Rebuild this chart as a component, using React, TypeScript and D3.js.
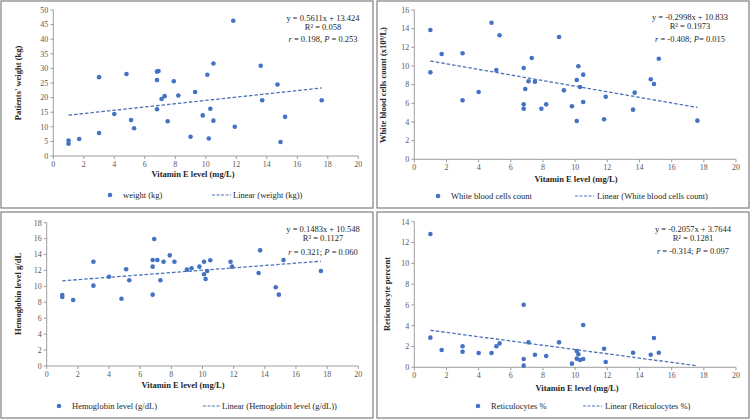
import React from "react";
import * as d3 from "d3";

// ---- Data ----
const weightVitE = [1, 1, 1.7, 3, 3, 4, 4.8, 5.1, 5.3, 6.8, 6.9, 6.8, 6.8, 7.1, 7.3, 7.5, 7.9, 8.2, 9, 9.3, 9.8, 10.1, 10.2, 10.3, 10.5, 10.5, 11.8, 11.9, 13.6, 13.7, 14.7, 14.9, 15.2, 17.6];
const weightKg = [5.3, 4.2, 5.8, 27, 7.9, 14.4, 28.1, 12.3, 9.5, 28.9, 29.1, 26, 16, 19.5, 20.5, 11.9, 25.6, 20.7, 6.6, 21.9, 13.9, 27.8, 6.0, 16.2, 31.7, 12.1, 46.3, 10, 30.9, 19.1, 24.5, 4.8, 13.4, 19.1];

const wbcVitE = [1, 1, 1.7, 3, 3, 4, 4.8, 5.1, 5.3, 6.8, 6.8, 6.8, 6.9, 7.1, 7.3, 7.5, 7.9, 8.2, 9, 9.3, 9.8, 10.1, 10.1, 10.2, 10.3, 10.5, 10.5, 11.8, 11.9, 13.6, 13.7, 14.7, 14.9, 15.2, 17.6];
const wbcCount = [13.86, 9.32, 11.29, 11.36, 6.32, 7.21, 14.64, 9.57, 13.29, 9.79, 5.89, 5.42, 7.53, 8.36, 10.86, 8.32, 5.42, 5.89, 13.1, 7.39, 5.68, 8.5, 4.1, 9.97, 7.75, 9.07, 6.14, 4.29, 6.71, 5.32, 7.14, 8.58, 8.07, 10.78, 4.14];

const hbVitE = [1, 1, 1.7, 3, 3, 4, 4.8, 5.1, 5.3, 6.9, 6.8, 6.8, 6.8, 7.1, 7.3, 7.5, 7.9, 8.2, 9, 9.3, 9.8, 10.1, 10.1, 10.2, 10.3, 10.5, 11.8, 11.9, 13.6, 13.7, 14.7, 14.9, 15.2, 17.6];
const hbLevel = [8.92, 8.67, 8.29, 13.1, 10.09, 11.22, 8.45, 12.15, 10.77, 15.95, 13.32, 12.48, 8.96, 13.32, 10.77, 13.1, 13.9, 13.1, 12.1, 12.27, 12.48, 13.1, 11.52, 10.93, 11.93, 13.28, 13.1, 12.48, 11.68, 14.53, 9.89, 8.96, 13.32, 11.93];

const reticVitE = [1, 1, 1.7, 3, 3, 4, 4.8, 5.1, 5.3, 6.8, 6.8, 6.8, 7.1, 7.5, 8.2, 9, 9.8, 10.1, 10.1, 10.2, 10.3, 10.5, 10.5, 11.8, 11.9, 13.6, 14.7, 14.9, 15.2];
const reticPct = [12.82, 2.85, 1.66, 2.02, 1.5, 1.37, 1.37, 2.02, 2.3, 6.02, 0.8, 0.16, 2.4, 1.21, 1.09, 2.4, 0.35, 1.57, 0.83, 1.25, 0.7, 0.8, 4.07, 1.79, 0.51, 1.4, 1.21, 2.82, 1.4];

const slopes = [0.5611, -0.2998, 0.1483, -0.2057];
const intercepts = [13.424, 10.833, 10.548, 3.7644];
const yMaxes = [50, 16, 18, 14];
const yStep = [5, 2, 2, 2];
const xTicks = [0, 2, 4, 6, 8, 10, 12, 14, 16, 18, 20];
const seriesNames = ["weight (kg)", "White blood cells count", "Hemoglobin level (g/dL)", "Reticulocytes %"];
const yTitles = ["Patients' weight (kg)", "White blood cells count (x10\u2079/L)", "Hemoglobin level g/dL", "Reticulocyte percent"];
const xTitle = "Vitamin E level (mg/L)";
const eqLines = ["y = 0.5611x + 13.424", "y = -0.2998x + 10.833", "y = 0.1483x + 10.548", "y = -0.2057x + 3.7644"];
const r2Lines = ["R\u00b2 = 0.058", "R\u00b2 = 0.1973", "R\u00b2 = 0.1127", "R\u00b2 = 0.1281"];
const rValues = ["0.198", "-0.408", "0.321", "-0.314"];
const pValues = ["0.253", "0.015", "0.060", "0.097"];
const rpSeparators = [", ", "; ", "; ", "; "];
const pEquals = [" = ", "= ", " = ", " = "];

const xsAll = [weightVitE, wbcVitE, hbVitE, reticVitE];
const ysAll = [weightKg, wbcCount, hbLevel, reticPct];

// ---- Layout ----
const layouts = [
  { box: [1, 1, 372, 207], px: [53.3, 358.3], py: [156, 10], xt: [193, 177], yt: [21, 83], eq: [323, 21, 30, 42], lg: [110, 123, 212, 231, 233, 195] },
  { box: [377, 1, 372, 207], px: [414.3, 736], py: [159.3, 10], xt: [576, 182], yt: [386, 85], eq: [690, 20, 29, 42], lg: [438, 451, 575, 594, 597, 196] },
  { box: [1, 212, 372, 206], px: [46.7, 358.3], py: [366, 222.7], xt: [183, 387.5], yt: [21, 294], eq: [323, 232, 241, 255], lg: [59, 72, 203, 220, 222, 406] },
  { box: [377, 212, 372, 206], px: [414.3, 736], py: [367.3, 221.7], xt: [577, 391], yt: [390, 294], eq: [693, 232, 241, 254], lg: [478, 491, 583, 602, 605, 406] },
];

const BLUE = "#4472C4";
const FONT = "'Liberation Serif', 'Times New Roman', serif";

const trendExtent = d3.extent(wbcVitE) as [number, number];

function Panel({ i }: { i: number }) {
  const L = layouts[i];
  const x = d3.scaleLinear().domain([0, 20]).range(L.px);
  const y = d3.scaleLinear().domain([0, yMaxes[i]]).range(L.py);
  const yTicks = d3.range(0, yMaxes[i] + 0.001, yStep[i]);
  const xs = xsAll[i];
  const ys = ysAll[i];
  const line = d3
    .line<number>()
    .x((v) => x(v))
    .y((v) => y(slopes[i] * v + intercepts[i]));
  const [bx, by, bw, bh] = L.box;
  const [mx, tx, d1, d2, dtx, ly] = L.lg;
  return (
    <g>
      <rect x={bx} y={by} width={bw} height={bh} fill="#fff" stroke="#7f7f7f" strokeWidth={1.2} />
      {/* axes */}
      <line x1={L.px[0]} x2={L.px[1]} y1={L.py[0]} y2={L.py[0]} stroke="#868686" strokeWidth={0.8} />
      <line x1={L.px[0]} x2={L.px[0]} y1={L.py[0]} y2={L.py[1]} stroke="#868686" strokeWidth={0.8} />
      {xTicks.map((t) => (
        <g key={"xt" + t}>
          <line x1={x(t)} x2={x(t)} y1={L.py[0]} y2={L.py[0] + 3} stroke="#868686" strokeWidth={0.8} />
          <text x={x(t)} y={L.py[0] + 11} textAnchor="middle" fontSize={8} fill="#595959" fontFamily={FONT}>
            {t}
          </text>
        </g>
      ))}
      {yTicks.map((t) => (
        <g key={"yt" + t}>
          <line x1={L.px[0] - 3} x2={L.px[0]} y1={y(t)} y2={y(t)} stroke="#868686" strokeWidth={0.8} />
          <text x={L.px[0] - 5} y={y(t) + 2.8} textAnchor="end" fontSize={8} fill="#595959" fontFamily={FONT}>
            {t}
          </text>
        </g>
      ))}
      {/* points */}
      {xs.map((v, k) => (
        <circle key={k} cx={x(v)} cy={y(ys[k])} r={2.3} fill={BLUE} />
      ))}
      {/* trendline */}
      <path d={line(trendExtent) || ""} fill="none" stroke="#4a72b8" strokeWidth={1.3} strokeDasharray="3.5,2" />
      {/* titles */}
      <text x={L.xt[0]} y={L.xt[1]} textAnchor="middle" fontSize={8.5} fontWeight="bold" fill="#262626" fontFamily={FONT}>
        {xTitle}
      </text>
      <text
        transform={`translate(${L.yt[0]},${L.yt[1]}) rotate(-90)`}
        textAnchor="middle"
        fontSize={8.5}
        fontWeight="bold"
        fill="#262626"
        fontFamily={FONT}
      >
        {yTitles[i]}
      </text>
      {/* equation */}
      <g fontSize={8.5} fill="#262626" fontFamily={FONT} textAnchor="middle">
        <text x={L.eq[0]} y={L.eq[1]}>{eqLines[i]}</text>
        <text x={L.eq[0]} y={L.eq[2]}>{r2Lines[i]}</text>
        <text x={L.eq[0]} y={L.eq[3]}>
          <tspan fontStyle="italic">r</tspan>
          {" = " + rValues[i] + rpSeparators[i]}
          <tspan fontStyle="italic">P</tspan>
          {pEquals[i] + pValues[i]}
        </text>
      </g>
      {/* legend */}
      <circle cx={mx} cy={ly} r={2.3} fill={BLUE} />
      <text x={tx} y={ly + 3} fontSize={8.5} fill="#262626" fontFamily={FONT}>
        {seriesNames[i]}
      </text>
      <line x1={d1} x2={d2} y1={ly} y2={ly} stroke="#4a72b8" strokeWidth={1.2} strokeDasharray="3,1.5" />
      <text x={dtx} y={ly + 3} fontSize={8.5} fill="#262626" fontFamily={FONT}>
        {"Linear (" + seriesNames[i] + ")"}
      </text>
    </g>
  );
}

export default function App() {
  return (
    <svg
      width={750}
      height={420}
      viewBox="0 0 750 420"
      style={{ position: "absolute", left: 0, top: 0, background: "#fff" }}
    >
      <rect x={0} y={0} width={750} height={420} fill="#fff" />
      {[0, 1, 2, 3].map((i) => (
        <Panel key={i} i={i} />
      ))}
    </svg>
  );
}
